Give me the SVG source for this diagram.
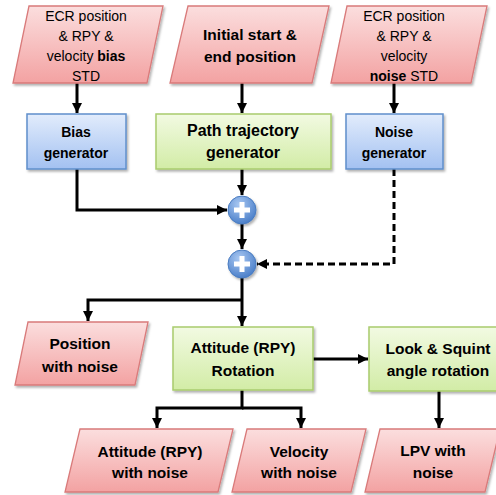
<svg xmlns="http://www.w3.org/2000/svg" width="496" height="495" viewBox="0 0 496 495">
<defs>
<linearGradient id="gPink" x1="0" y1="0" x2="0" y2="1"><stop offset="0" stop-color="#fbdede"/><stop offset="1" stop-color="#f3a2a2"/></linearGradient>
<linearGradient id="gBlue" x1="0" y1="0" x2="0" y2="1"><stop offset="0" stop-color="#e2ecfc"/><stop offset="1" stop-color="#a3c1f1"/></linearGradient>
<linearGradient id="gGreen" x1="0" y1="0" x2="0" y2="1"><stop offset="0" stop-color="#f2fae2"/><stop offset="1" stop-color="#d2eca6"/></linearGradient>
<radialGradient id="gCirc" cx="0.4" cy="0.3" r="0.8"><stop offset="0" stop-color="#a9c8f2"/><stop offset="1" stop-color="#3f76c4"/></radialGradient>
<filter id="sh" x="-10%" y="-10%" width="130%" height="130%"><feDropShadow dx="1.5" dy="2" stdDeviation="1.2" flood-color="#000" flood-opacity="0.3"/></filter>
<marker id="arr" viewBox="0 0 10 10" refX="10" refY="5" markerWidth="10" markerHeight="10" markerUnits="userSpaceOnUse" orient="auto"><path d="M0,0 L10,5 L0,10 z" fill="#000"/></marker>
</defs>
<style>
.pink{fill:url(#gPink);stroke:#d97a7a;stroke-width:1.3;filter:url(#sh)}
.blue{fill:url(#gBlue);stroke:#5f8fcb;stroke-width:1.5;filter:url(#sh)}
.green{fill:url(#gGreen);stroke:#a9cc6c;stroke-width:1.5;filter:url(#sh)}
.circ{fill:url(#gCirc);stroke:#4a7cc0;stroke-width:1;filter:url(#sh)}
.plus{stroke:#fff;stroke-width:5;fill:none}
text{font-family:"Liberation Sans",Arial,sans-serif;fill:#000;text-anchor:middle}
.r{font-size:14px}
.b{font-size:15.5px;font-weight:bold}
.bs{font-size:14px;font-weight:bold}
.bl{font-size:16px;font-weight:bold}
.c{fill:none;stroke:#000;stroke-width:3}
.d{stroke-dasharray:7,4}
</style>
<g id="connectors">
<path class="c" d="M77,83 V113" marker-end="url(#arr)"/>
<path class="c" d="M242,83 V113" marker-end="url(#arr)"/>
<path class="c" d="M394,83 V113" marker-end="url(#arr)"/>
<path class="c" d="M77,169 V210 H227" marker-end="url(#arr)"/>
<path class="c" d="M242,169 V195" marker-end="url(#arr)"/>
<path class="c" d="M242,224 V249" marker-end="url(#arr)"/>
<path class="c d" d="M394,169 V264 H257" marker-end="url(#arr)"/>
<path class="c" d="M242,278 V326" marker-end="url(#arr)"/>
<path class="c" d="M242,300 H88 V321" marker-end="url(#arr)"/>
<path class="c" d="M313,359 H368" marker-end="url(#arr)"/>
<path class="c" d="M242,390 V408 H157 V428" marker-end="url(#arr)"/>
<path class="c" d="M242,408 H301 V428" marker-end="url(#arr)"/>
<path class="c" d="M439,391 V428" marker-end="url(#arr)"/>
</g>
<g id="bias-std">
<polygon class="pink" points="29,6 163,6 147,83 13,83"/>
<text class="r" x="86" y="21">ECR position</text>
<text class="r" x="86" y="41">&amp; RPY &amp;</text>
<text class="r" x="86" y="61">velocity <tspan font-weight="bold">bias</tspan></text>
<text class="r" x="86" y="81">STD</text>
</g>
<g id="initial">
<polygon class="pink" points="188,6 329,6 312,83 170,83"/>
<text class="b" x="250" y="40">Initial start &amp;</text>
<text class="b" x="250" y="62">end position</text>
</g>
<g id="noise-std">
<polygon class="pink" points="347,6 487,6 471,83 331,83"/>
<text class="r" x="404" y="21">ECR position</text>
<text class="r" x="404" y="41">&amp; RPY &amp;</text>
<text class="r" x="404" y="61">velocity</text>
<text class="r" x="404" y="81"><tspan font-weight="bold">noise</tspan> STD</text>
</g>
<g id="bias-gen">
<rect class="blue" x="27" y="114" width="99" height="55"/>
<text class="bs" x="76" y="137">Bias</text>
<text class="bs" x="76" y="158">generator</text>
</g>
<g id="path-gen">
<rect class="green" x="156" y="114" width="175" height="55"/>
<text class="bl" x="243" y="136">Path trajectory</text>
<text class="bl" x="243" y="158">generator</text>
</g>
<g id="noise-gen">
<rect class="blue" x="346" y="114" width="97" height="55"/>
<text class="bs" x="394" y="137">Noise</text>
<text class="bs" x="394" y="158">generator</text>
</g>
<g id="sum1">
<circle class="circ" cx="242" cy="210" r="14"/>
<path class="plus" d="M234,210 H250 M242,202 V218"/>
</g>
<g id="sum2">
<circle class="circ" cx="242" cy="264" r="14"/>
<path class="plus" d="M234,264 H250 M242,256 V272"/>
</g>
<g id="position">
<polygon class="pink" points="28,322 148,322 135,385 15,385"/>
<text class="b" x="80" y="349">Position</text>
<text class="b" x="80" y="372">with noise</text>
</g>
<g id="attitude-rot">
<rect class="green" x="173" y="327" width="140" height="63"/>
<text class="b" x="243" y="353">Attitude (RPY)</text>
<text class="b" x="243" y="376">Rotation</text>
</g>
<g id="look">
<rect class="green" x="369" y="327" width="140" height="64"/>
<text class="b" x="438" y="354">Look &amp; Squint</text>
<text class="b" x="438" y="376">angle rotation</text>
</g>
<g id="attitude-out">
<polygon class="pink" points="80,429 233,429 218,492 65,492"/>
<text class="b" x="150" y="457">Attitude (RPY)</text>
<text class="b" x="150" y="478">with noise</text>
</g>
<g id="velocity">
<polygon class="pink" points="247,429 366,429 351,492 232,492"/>
<text class="b" x="299" y="457">Velocity</text>
<text class="b" x="299" y="478">with noise</text>
</g>
<g id="lpv">
<polygon class="pink" points="380,429 500,429 485,492 365,492"/>
<text class="b" x="433" y="456">LPV with</text>
<text class="b" x="433" y="478">noise</text>
</g>
</svg>
